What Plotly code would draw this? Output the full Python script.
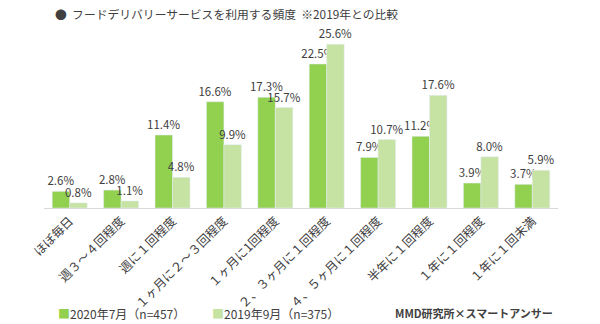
import plotly.graph_objects as go

categories = ["ほぼ毎日", "週３～４回程度", "週に１回程度", "１ヶ月に２～３回程度", "１ヶ月に1回程度",
              "２、３ヶ月に１回程度", "４、５ヶ月に１回程度", "半年に１回程度", "１年に１回程度", "１年に１回未満"]
series_2020 = [2.6, 2.8, 11.4, 16.6, 17.3, 22.5, 7.9, 11.2, 3.9, 3.7]
series_2019 = [0.8, 1.1, 4.8, 9.9, 15.7, 25.6, 10.7, 17.6, 8.0, 5.9]
name_2020 = "2020年7月（n=457）"
name_2019 = "2019年9月（n=375）"
color_2020 = "#92D050"
color_2019 = "#C6E3A4"

FONT = "Noto Sans CJK JP"
TXT = "#404040"

fig = go.Figure()
fig.add_trace(go.Bar(x=categories, y=series_2020, name=name_2020, marker_color=color_2020,
                     texttemplate="%{y:.1f}%", textposition="outside", cliponaxis=False,
                     constraintext="none",
                     textfont=dict(size=11.5, color=TXT, family=FONT)))
fig.add_trace(go.Bar(x=categories, y=series_2019, name=name_2019, marker_color=color_2019,
                     texttemplate="%{y:.1f}%", textposition="outside", cliponaxis=False,
                     constraintext="none",
                     textfont=dict(size=11.5, color=TXT, family=FONT)))

def px_x(p):
    return (p - 44) / 514

def px_y(p):
    return (208 - p) / 192

annotations = [
    dict(text="<b>MMD研究所×スマートアンサー</b>", xref="paper", yref="paper",
         x=px_x(555), y=px_y(313), xanchor="right", yanchor="middle",
         showarrow=False, font=dict(size=11, color="#404040", family=FONT)),
    dict(text=f"<span style='color:{color_2020}'>■</span>{name_2020}", xref="paper", yref="paper",
         x=px_x(56), y=px_y(313), xanchor="left", yanchor="middle",
         showarrow=False, font=dict(size=12, color=TXT, family=FONT)),
    dict(text=f"<span style='color:{color_2019}'>■</span>{name_2019}", xref="paper", yref="paper",
         x=px_x(210), y=px_y(313), xanchor="left", yanchor="middle",
         showarrow=False, font=dict(size=12, color=TXT, family=FONT)),
]

fig.update_layout(
    width=600, height=324,
    margin=dict(l=44, r=42, t=16, b=116),
    paper_bgcolor="white", plot_bgcolor="white",
    barmode="group", bargap=0.32, bargroupgap=0,
    font=dict(family=FONT, color=TXT, size=11),
    title=dict(text="●  フードデリバリーサービスを利用する頻度  ※2019年との比較",
               x=55/600, xref="container", xanchor="left",
               y=1-15/324, yref="container", yanchor="middle",
               font=dict(size=11.8, color="#404040", family=FONT)),
    xaxis=dict(tickangle=-45, showline=True, linecolor="#D9D9D9", linewidth=1,
               ticks="", tickfont=dict(size=12.3, color=TXT, family=FONT), showgrid=False),
    yaxis=dict(range=[0, 30], visible=False, showgrid=False),
    showlegend=False,
    annotations=annotations,
)

fig.write_html("out.html")
